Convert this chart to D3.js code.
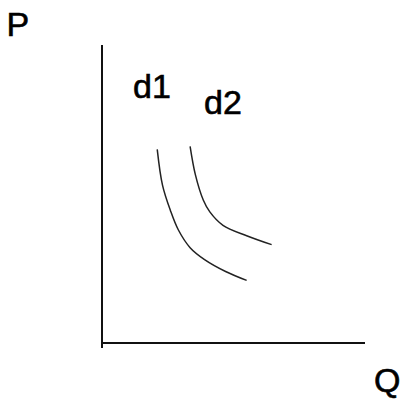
<!DOCTYPE html>
<html>
<head>
<meta charset="utf-8">
<script src="https://cdn.jsdelivr.net/npm/d3@7"></script>
<style>
  body { margin: 0; background: #fff; }
  text { font-family: "Liberation Sans", Arial, sans-serif; fill: #000; stroke: #000; stroke-width: 0.6px; }
</style>
</head>
<body>
<div id="chart"></div>
<script>
// demand curves (Q, P)
const seriesNames = ["d1", "d2"];
const d1Points = [[2.1, 6.5], [2.3, 5.3], [2.6, 4.45], [2.9, 3.8], [3.35, 3.2], [3.9, 2.8], [4.7, 2.4], [5.5, 2.1]];
const d2Points = [[3.35, 6.6], [3.55, 5.65], [3.85, 4.8], [4.1, 4.4], [4.6, 3.95], [5.5, 3.6], [6.45, 3.3]];
const axisLabels = ["P", "Q"];

const width = 406, height = 400;
const fontSize = 34;

const svg = d3.select("#chart").append("svg")
    .attr("width", width)
    .attr("height", height);

const x = d3.scaleLinear().domain([0, 10]).range([102, 365]);
const y = d3.scaleLinear().domain([0, 10]).range([343, 45]);

// axes (plain lines, no ticks)
svg.append("line")
    .attr("x1", x(0)).attr("x2", x(0))
    .attr("y1", y(0) + 5).attr("y2", y(10))
    .attr("stroke", "#111").attr("stroke-width", 2);

svg.append("line")
    .attr("x1", x(0)).attr("x2", x(10))
    .attr("y1", y(0)).attr("y2", y(0))
    .attr("stroke", "#111").attr("stroke-width", 2);

const line = d3.line()
    .x(d => x(d[0]))
    .y(d => y(d[1]))
    .curve(d3.curveCatmullRom);

svg.selectAll(".curve")
    .data([d1Points, d2Points])
    .enter()
    .append("path")
    .attr("class", "curve")
    .attr("d", line)
    .attr("fill", "none")
    .attr("stroke", "#222")
    .attr("stroke-width", 1.5);

// curve labels
svg.append("text").text(seriesNames[0])
    .attr("x", x(1.18)).attr("y", y(8.22))
    .attr("font-size", fontSize);
svg.append("text").text(seriesNames[1])
    .attr("x", x(3.88)).attr("y", y(7.68))
    .attr("font-size", fontSize);

// axis labels
svg.append("text").text(axisLabels[0])
    .attr("x", 6.5).attr("y", 36)
    .attr("font-size", fontSize);
svg.append("text").text(axisLabels[1])
    .attr("x", 374).attr("y", 392)
    .attr("font-size", fontSize);
</script>
</body>
</html>
